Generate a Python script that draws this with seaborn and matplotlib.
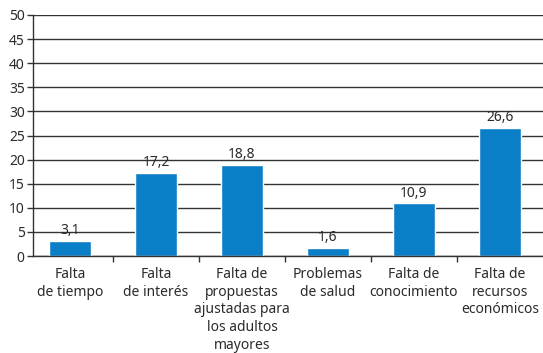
import matplotlib
matplotlib.use("Agg")
import matplotlib.pyplot as plt
import seaborn as sns
import pandas as pd
from matplotlib.ticker import FixedLocator

categorias = [
    "Falta\nde tiempo",
    "Falta\nde interés",
    "Falta de\npropuestas\najustadas para\nlos adultos\nmayores",
    "Problemas\nde salud",
    "Falta de\nconocimiento",
    "Falta de\nrecursos\neconómicos",
]
porcentajes = [3.1, 17.2, 18.8, 1.6, 10.9, 26.6]
yticks = [0, 5, 10, 15, 20, 25, 30, 35, 40, 45, 50]

sns.set_theme(style="white")
plt.rcParams["font.family"] = ["Noto Sans", "DejaVu Sans"]

color_barra = "#0a7ec6"
color_texto = "#2b2b2b"
color_linea = "#333333"

df = pd.DataFrame({"categoria": categorias, "valor": porcentajes})

fig = plt.figure(figsize=(5.43, 3.53), dpi=100)
ax = fig.add_axes([33 / 543, (353 - 256) / 353, 1 - 33 / 543, (256 - 15) / 353])

sns.barplot(data=df, x="categoria", y="valor", color=color_barra,
            width=0.48, saturation=1, ax=ax)

ax.set_ylim(0, 50)
ax.set_xlim(-0.43, 5.5)
ax.set_yticks(yticks)
ax.set_yticklabels([str(v) for v in yticks])
ax.yaxis.grid(True, color=color_linea, linewidth=1.0)
ax.set_axisbelow(True)

for s in ["top", "right"]:
    ax.spines[s].set_visible(False)
for s in ["left", "bottom"]:
    ax.spines[s].set_color(color_linea)
    ax.spines[s].set_linewidth(1.0)

ax.set_xlabel("")
ax.set_ylabel("")
ax.tick_params(axis="y", which="major", left=True, length=4, width=1,
               color=color_linea, labelsize=10, labelcolor=color_texto, pad=2)
ax.tick_params(axis="x", which="major", bottom=False, labelsize=10,
               labelcolor=color_texto, pad=2)
ax.xaxis.set_minor_locator(FixedLocator([i + 0.5 for i in range(len(categorias) - 1)]))
ax.tick_params(axis="x", which="minor", bottom=True, length=4, width=1,
               color=color_linea)
for lbl in ax.get_xticklabels():
    lbl.set_linespacing(1.24)

for i, v in enumerate(porcentajes):
    ax.text(i, v + 0.6, f"{v:.1f}".replace(".", ","), ha="center", va="bottom",
            fontsize=10, color=color_texto)

fig.savefig("out.png", dpi=100)
